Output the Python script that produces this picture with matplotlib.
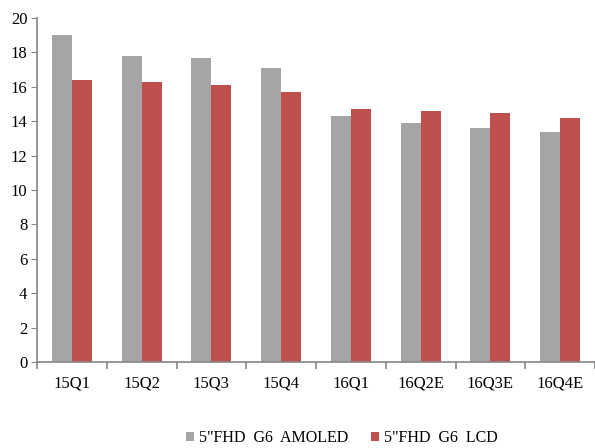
import matplotlib
matplotlib.use("Agg")
import matplotlib.pyplot as plt
import numpy as np

categories = ["15Q1", "15Q2", "15Q3", "15Q4", "16Q1", "16Q2E", "16Q3E", "16Q4E"]
amoled = [19.0, 17.8, 17.7, 17.1, 14.3, 13.9, 13.6, 13.4]
lcd = [16.4, 16.3, 16.1, 15.7, 14.7, 14.6, 14.5, 14.2]
series_names = ['5"FHD  G6  AMOLED', '5"FHD  G6  LCD']
yticks = [0, 2, 4, 6, 8, 10, 12, 14, 16, 18, 20]

plt.rcParams["font.family"] = ["Liberation Serif", "DejaVu Serif"]

fig = plt.figure(figsize=(5.95, 4.48), dpi=100)
ax = fig.add_axes([37 / 595, 1 - 362 / 448, 1 - 37 / 595, (362 - 18) / 448])

x = np.arange(len(categories))
w = 0.285
b1 = ax.bar(x - w / 2, amoled, width=w, color="#a5a5a5")
b2 = ax.bar(x + w / 2, lcd, width=w, color="#c0504d")

ax.set_xlim(-0.5, len(categories) - 0.5)
ax.set_ylim(0, 20)
ax.set_yticks(yticks)
ax.set_yticklabels([str(t) for t in yticks])
ax.set_xticks(x)
ax.set_xticklabels(categories)
ax.set_xticks(np.arange(len(categories) + 1) - 0.5, minor=True)

for s in ("top", "right"):
    ax.spines[s].set_visible(False)
for s in ("left", "bottom"):
    ax.spines[s].set_color("#868686")
    ax.spines[s].set_linewidth(1.2)

ax.tick_params(axis="y", direction="out", length=4, color="#868686", labelsize=12, pad=3)
ax.tick_params(axis="x", which="major", length=0, labelsize=12, pad=10)
ax.tick_params(axis="x", which="minor", direction="out", length=5, color="#868686", width=1.2)

# two legend entries placed side by side below the axes
for handle, name, x0 in ((b1, series_names[0], 186), (b2, series_names[1], 371)):
    leg = fig.legend([handle], [name], loc="center left",
                     bbox_to_anchor=(x0 / 595, 1 - 438 / 448), frameon=False,
                     fontsize=11.5, handlelength=0.5, handleheight=0.5,
                     handletextpad=0.3, borderpad=0, borderaxespad=0)

fig.savefig("out.png", dpi=100)
